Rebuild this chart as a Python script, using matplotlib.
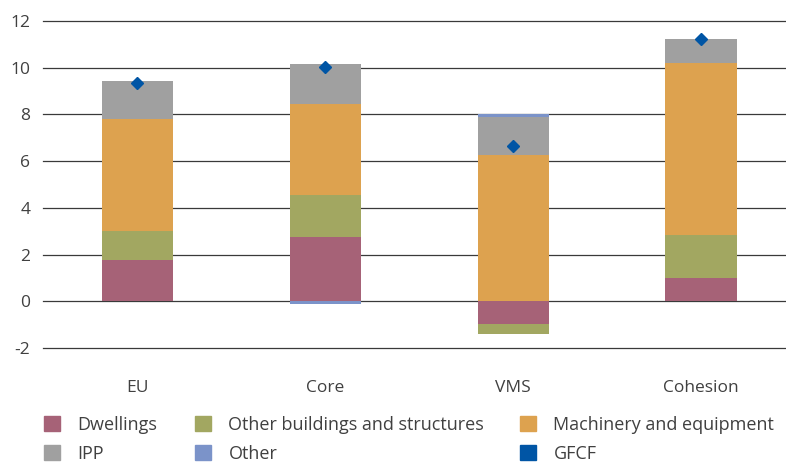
import numpy as np
import matplotlib.pyplot as plt
from matplotlib.patches import Patch

plt.rcParams['font.family'] = ['Open Sans', 'DejaVu Sans']

# Data (contributions, percentage points)
regions = ['EU', 'Core', 'VMS', 'Cohesion']
dwellings = [1.75, 2.74, -0.98, 0.98]
other_buildings = [1.28, 1.79, -0.42, 1.84]
machinery = [4.79, 3.93, 6.25, 7.37]
ipp = [1.62, 1.71, 1.63, 1.03]
other = [0.0, -0.10, 0.14, 0.02]
gfcf = [9.36, 10.04, 6.64, 11.22]

series = [
    ('Dwellings', dwellings, '#A66277'),
    ('Other buildings and structures', other_buildings, '#A2A761'),
    ('Machinery and equipment', machinery, '#DDA24F'),
    ('IPP', ipp, '#A0A0A0'),
    ('Other', other, '#7B93C9'),
]
gfcf_color = '#0055A5'
text_color = '#404040'

fig = plt.figure(figsize=(7.86, 4.65), dpi=100)
ax = fig.add_axes([0.0543, 0.2516, 0.9457, 0.7032])

x = np.arange(len(regions))
pos_base = np.zeros(len(regions))
neg_base = np.zeros(len(regions))
handles = {}
for name, vals, col in series:
    vals = np.array(vals)
    bottoms = np.where(vals >= 0, pos_base, neg_base)
    ax.bar(x, vals, width=0.378, bottom=bottoms, color=col, zorder=2)
    pos_base = pos_base + np.clip(vals, 0, None)
    neg_base = neg_base + np.clip(vals, None, 0)
    handles[name] = Patch(color=col)

ax.plot(x, gfcf, linestyle='none', marker='D', markersize=6.6,
        color=gfcf_color, zorder=3)
handles['GFCF'] = Patch(color=gfcf_color)

ax.set_xlim(-0.502, 3.452)
ax.set_ylim(-2, 12)
ax.set_yticks(range(-2, 13, 2))
ax.set_yticklabels([str(v) for v in range(-2, 13, 2)])
ax.set_xticks(x)
ax.set_xticklabels(regions)
ax.yaxis.grid(True, color='#3a3a3a', linewidth=0.9)
for gl in ax.get_ygridlines():
    gl.set_clip_on(False)
ax.set_axisbelow(True)
for s in ax.spines.values():
    s.set_visible(False)
ax.tick_params(axis='both', length=0, labelsize=12.5, colors=text_color)
ax.tick_params(axis='y', pad=9)
ax.tick_params(axis='x', pad=23)

# Legend: three columns, two rows
cols = [
    (['Dwellings', 'IPP'], 44 / 786),
    (['Other buildings and structures', 'Other'], 195 / 786),
    (['Machinery and equipment', 'GFCF'], 520 / 786),
]
for names, xpos in cols:
    leg = fig.legend([handles[n] for n in names], names,
                     loc='upper left', bbox_to_anchor=(xpos, 1 - 416 / 465),
                     frameon=False, fontsize=13, handlelength=0.9,
                     handleheight=0.9, handletextpad=0.95, labelspacing=0.6,
                     borderpad=0, borderaxespad=0, labelcolor=text_color)

fig.savefig('out.png', dpi=100)
